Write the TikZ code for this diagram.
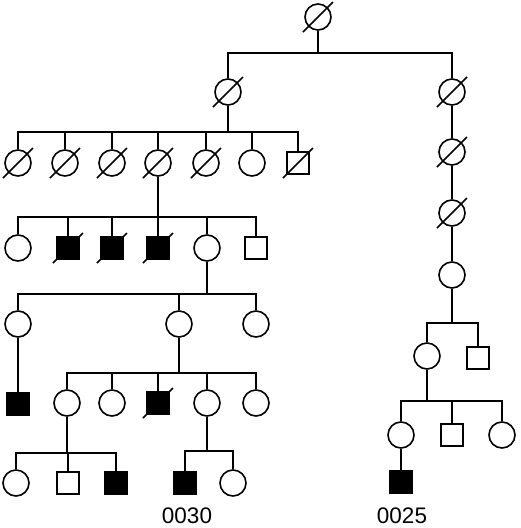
\documentclass[tikz,border=0pt]{standalone}
\usepackage{fontspec}
\setmainfont{Liberation Sans}
\usetikzlibrary{calc}
\tikzset{
	female/.style={draw=black, shape=circle, minimum size=26pt, inner sep=0pt},
	male/.style={draw=black, shape=rectangle, minimum size=21.5pt, inner sep=0pt},
	affected/.style={fill=black},
	tie/.style={line width=1.6pt},
	famid/.style={font=\fontsize{22.5}{26}\selectfont}
}
% slash through a deceased individual
\newcommand{\dead}[1]{\draw[tie] ($(#1)+(-15,15)$) -- ($(#1)+(15,-15)$);}

\begin{document}
\begin{tikzpicture}[x=1pt, y=-1pt, line width=1.6pt]
	\useasboundingbox (0,0) rectangle (520,528);

	% generation I and II
	\node (I1) [female] at (318,17) {}; \dead{I1}
	\node (II1) [female] at (228,92) {}; \dead{II1}
	\node (II2) [female] at (452,92) {}; \dead{II2}

	% generation III
	\node (III1) [female] at (18,163) {}; \dead{III1}
	\node (III2) [female] at (65,163) {}; \dead{III2}
	\node (III3) [female] at (112,163) {}; \dead{III3}
	\node (III4) [female] at (158,163) {}; \dead{III4}
	\node (III5) [female] at (206,163) {}; \dead{III5}
	\node (III6) [female] at (252,163) {};
	\node (III7) [male] at (298,163) {}; \dead{III7}
	\node (III8) [female] at (452,152) {}; \dead{III8}

	% generation IV and V
	\node (IV1) [female] at (18,248) {};
	\node (IV2) [male, affected] at (68,248) {}; \dead{IV2}
	\node (IV3) [male, affected] at (112,248) {}; \dead{IV3}
	\node (IV4) [male, affected] at (158,248) {}; \dead{IV4}
	\node (IV5) [female] at (207,248) {};
	\node (IV6) [male] at (256,248) {};
	\node (IV7) [female] at (452,213) {}; \dead{IV7}
	\node (V1) [female] at (18,324) {};
	\node (V2) [female] at (179,324) {};
	\node (V3) [female] at (256,324) {};
	\node (V4) [female] at (452,275) {};

	% generation VI
	\node (VI1) [male, affected] at (18,404) {};
	\node (VI2) [female] at (67,403) {};
	\node (VI3) [female] at (112,403) {};
	\node (VI4) [male, affected] at (158,403) {}; \dead{VI4}
	\node (VI5) [female] at (207,403) {};
	\node (VI6) [female] at (256,403) {};
	\node (VI7) [female] at (427,356) {};
	\node (VI8) [male] at (478,358) {};

	% generation VII and VIII
	\node (VII1) [female] at (16,483) {};
	\node (VII2) [male] at (68,483) {};
	\node (VII3) [male, affected] at (116,483) {};
	\node (VII4) [male, affected] at (185,483) {};
	\node (VII5) [female] at (233,483) {};
	\node (VII6) [female] at (401,435) {};
	\node (VII7) [male] at (452,435) {};
	\node (VII8) [female] at (502,435) {};
	\node (VIII1) [male, affected] at (401,482) {};

	% family numbers
	\node (f30) [famid] at (187,516) {0030};
	\node (f25) [famid] at (402,516) {0025};

	% junctions of the sibship bars
	\coordinate (j1) at (318,53);
	\coordinate (j2) at (228,132);
	\coordinate (j3) at (452,323);
	\coordinate (j4) at (158,217);
	\coordinate (j5) at (207,294);
	\coordinate (j6) at (179,373);
	\coordinate (j7) at (67,453);
	\coordinate (j8) at (207,451);
	\coordinate (j9) at (427,401);

	% lines of descent
	\draw[tie] (I1) -- (j1);
	\draw[tie] (II1) |- (j1) -| (II2);
	\draw[tie] (II1) -- (j2);
	\foreach \c in {III1,III2,III3,III4,III5,III6,III7} \draw[tie] (\c) |- (j2);
	\draw[tie] (II2) -- (III8);
	\draw[tie] (III8) -- (IV7);
	\draw[tie] (IV7) -- (V4);
	\draw[tie] (V4) -- (j3);
	\draw[tie] (VI7) |- (j3) -| (VI8);
	\draw[tie] (III4) -- (j4);
	\foreach \c in {IV1,IV2,IV3,IV4,IV5,IV6} \draw[tie] (\c) |- (j4);
	\draw[tie] (IV5) -- (j5);
	\foreach \c in {V1,V2,V3} \draw[tie] (\c) |- (j5);
	\draw[tie] (V1) -- (VI1);
	\draw[tie] (V2) -- (j6);
	\foreach \c in {VI2,VI3,VI4,VI5,VI6} \draw[tie] (\c) |- (j6);
	\draw[tie] (VI2) -- (j7);
	\foreach \c in {VII1,VII2,VII3} \draw[tie] (\c) |- (j7);
	\draw[tie] (VI5) -- (j8);
	\foreach \c in {VII4,VII5} \draw[tie] (\c) |- (j8);
	\draw[tie] (VI7) -- (j9);
	\foreach \c in {VII6,VII7,VII8} \draw[tie] (\c) |- (j9);
	\draw[tie] (VII6) -- (VIII1);
\end{tikzpicture}
\end{document}
